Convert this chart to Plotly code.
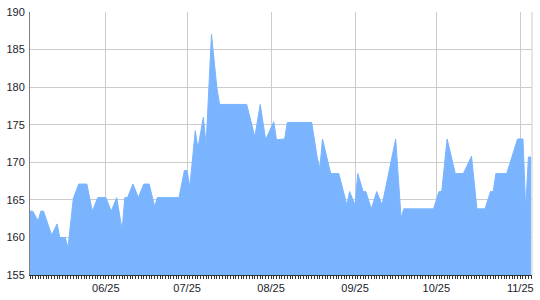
import plotly.graph_objects as go

dates = [
    "2024-05-28", "2024-05-29", "2024-05-31", "2024-06-01", "2024-06-02", "2024-06-05",
    "2024-06-07", "2024-06-08", "2024-06-10", "2024-06-11", "2024-06-13", "2024-06-15",
    "2024-06-18", "2024-06-20", "2024-06-22", "2024-06-25", "2024-06-27", "2024-06-29",
    "2024-07-01", "2024-07-02", "2024-07-03", "2024-07-05", "2024-07-07", "2024-07-09",
    "2024-07-11", "2024-07-13", "2024-07-14", "2024-07-22", "2024-07-24", "2024-07-25",
    "2024-07-26", "2024-07-28", "2024-07-29", "2024-07-31", "2024-08-01", "2024-08-03",
    "2024-08-05", "2024-08-06", "2024-08-16", "2024-08-19", "2024-08-21", "2024-08-23",
    "2024-08-26", "2024-08-27", "2024-08-30", "2024-08-31", "2024-09-09", "2024-09-11",
    "2024-09-12", "2024-09-13", "2024-09-16", "2024-09-19", "2024-09-22", "2024-09-23",
    "2024-09-25", "2024-09-26", "2024-09-28", "2024-09-29", "2024-10-01", "2024-10-03",
    "2024-10-05", "2024-10-10", "2024-10-12", "2024-10-13", "2024-10-24", "2024-10-26",
    "2024-10-27", "2024-10-29", "2024-11-01", "2024-11-04", "2024-11-07", "2024-11-09",
    "2024-11-12", "2024-11-14", "2024-11-15", "2024-11-16", "2024-11-20", "2024-11-24",
    "2024-11-26", "2024-11-27", "2024-11-28", "2024-11-29",
]
values = [
    163.5, 163.5, 162.2, 163.5, 163.5, 160.3,
    161.8, 160.0, 160.0, 158.6, 165.2, 167.1,
    167.1, 163.5, 165.3, 165.3, 163.5, 165.3,
    161.0, 165.3, 165.3, 167.1, 165.3, 167.1,
    167.1, 164.1, 165.3, 165.3, 168.9, 168.9,
    166.7, 174.2, 171.9, 176.0, 172.3, 187.0,
    179.9, 177.7, 177.7, 173.4, 177.7, 173.0,
    175.4, 173.0, 173.1, 175.3, 175.3, 170.7,
    169.2, 173.1, 168.5, 168.5, 164.3, 166.1,
    164.3, 168.5, 166.1, 166.1, 163.8, 166.1,
    164.3, 173.1, 162.6, 163.8, 163.8, 166.1,
    166.1, 173.1, 168.5, 168.5, 170.8, 163.8,
    163.8, 166.1, 166.1, 168.5, 168.5, 173.1,
    173.1, 163.8, 170.7, 170.7,
]
tick_vals = ["2024-06-25", "2024-07-25", "2024-08-25", "2024-09-25", "2024-10-25", "2024-11-25"]
tick_text = ["06/25", "07/25", "08/25", "09/25", "10/25", "11/25"]
y_ticks = [155, 160, 165, 170, 175, 180, 185, 190]

fill = "rgb(122,180,255)"
fig = go.Figure()
fig.add_trace(go.Scatter(
    x=dates, y=values, mode="lines", fill="tozeroy",
    line=dict(color=fill, width=1), fillcolor=fill, hoverinfo="x+y",
))

font = dict(family="Liberation Sans, Arial, sans-serif", size=11, color="#1a1a2a")
fig.update_layout(
    width=540, height=300,
    margin=dict(l=30, r=6, t=8, b=23),
    paper_bgcolor="white", plot_bgcolor="white",
    showlegend=False,
    font=font,
    xaxis=dict(
        type="date",
        range=["2024-05-28", "2024-11-29 08:00"],
        tickvals=tick_vals, ticktext=tick_text,
        showgrid=True, gridcolor="#cccccc", gridwidth=1,
        showline=True, linecolor="#333333", linewidth=1,
        ticks="outside", ticklen=3, tickcolor="#333333",
        minor=dict(ticks="outside", dtick=86400000, ticklen=3, tickcolor="#333333", showgrid=False),
        tickfont=font, zeroline=False,
    ),
    yaxis=dict(
        range=[155, 190], tickvals=y_ticks,
        showgrid=True, gridcolor="#cccccc", gridwidth=1,
        showline=True, linecolor="#808080", linewidth=1,
        ticks="", ticklabelstandoff=2,
        tickfont=font, zeroline=False,
    ),
    shapes=[dict(type="line", xref="paper", yref="paper", x0=1, x1=1, y0=0, y1=1,
                 line=dict(color="#cccccc", width=1))],
)
fig.write_html("out.html")
